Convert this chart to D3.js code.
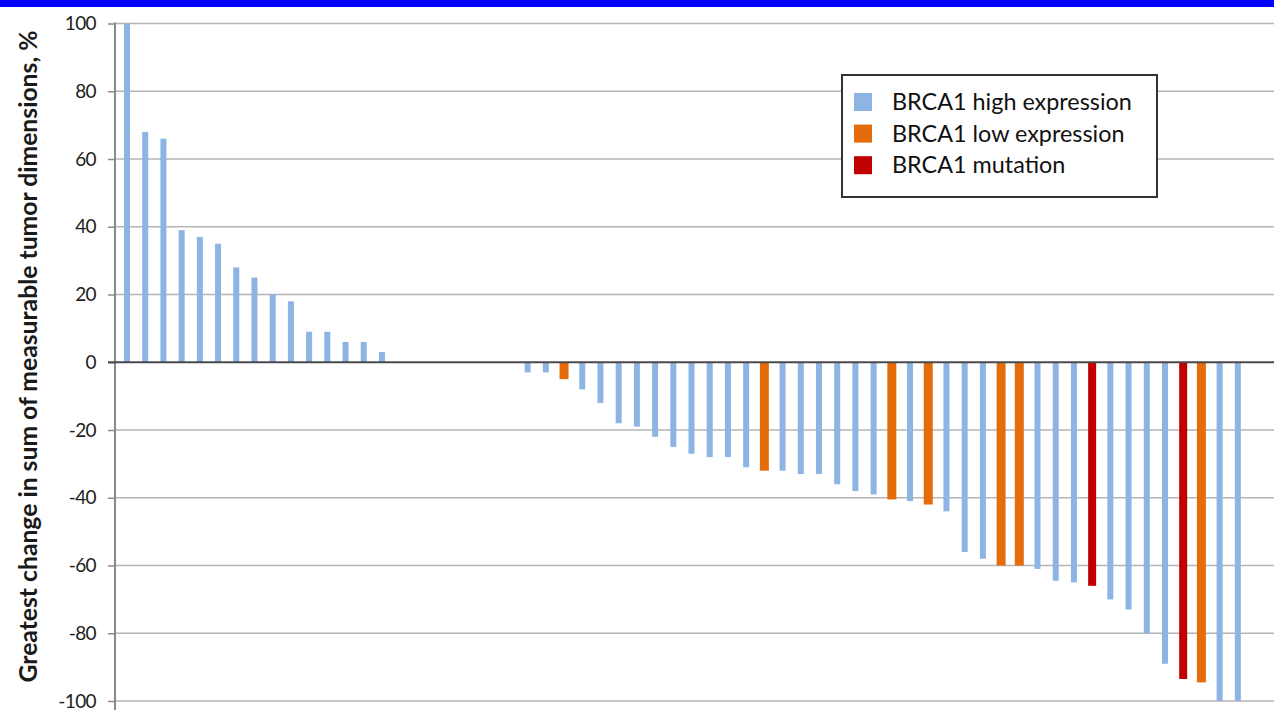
<!DOCTYPE html>
<html>
<head>
<meta charset="utf-8">
<script src="https://cdn.jsdelivr.net/npm/d3@7"></script>
<style>
  html, body { margin: 0; padding: 0; background: #ffffff; }
  svg { display: block; }
  text { font-family: Lato, "Open Sans", "DejaVu Sans", sans-serif; }
</style>
</head>
<body>
<svg id="chart" width="1274" height="710"></svg>
<script>
// Waterfall of best tumour response per patient, ordered from growth to shrinkage.
const changes = [
  100, 68, 66, 39, 37, 35, 28, 25, 20, 18, 9, 9, 6, 6, 3,
  0, 0, 0, 0, 0, 0, 0,
  -3, -3, -5, -8, -12, -18, -19, -22, -25, -27, -28, -28, -31, -32, -32, -33, -33, -36,
  -38, -39, -40.5, -41, -42, -44, -56, -58, -60, -60, -61, -64.5, -65, -66, -70, -73,
  -80, -89, -93.5, -94.5, -100, -100
];
const groups = [
  "high", "high", "high", "high", "high", "high", "high", "high", "high", "high", "high", "high", "high", "high", "high",
  "high", "high", "high", "high", "high", "high", "high",
  "high", "high", "low", "high", "high", "high", "high", "high", "high", "high", "high", "high", "high", "low", "high", "high", "high", "high",
  "high", "high", "low", "high", "low", "high", "high", "high", "low", "low", "high", "high", "high", "mut", "high", "high",
  "high", "high", "mut", "low", "high", "high"
];
const groupKeys = ["high", "low", "mut"];
const groupLabels = ["BRCA1 high expression", "BRCA1 low expression", "BRCA1 mutation"];
const yTicks = [100, 80, 60, 40, 20, 0, -20, -40, -60, -80, -100];
const yTitle = "Greatest change in sum of measurable tumor dimensions, %";

const patients = changes.map((_, i) => i + 1);
const rows = patients.map((p, i) => ({ patient: p, change: changes[i], group: groups[i] }));

// Styling
const fills = { high: "#8db4e2", low: "#e46c0a", mut: "#c00000" };
const barWidths = { high: 6, low: 9, mut: 8 };

const W = 1274, H = 710;
const axisX = 115;
const svg = d3.select("#chart");

// Banner strip along the top edge
svg.append("rect").attr("x", 0).attr("y", 0).attr("width", W).attr("height", 7).attr("fill", "#0000fc");

const y = d3.scaleLinear().domain([-100, 100]).range([701, 23.5]);
const x = d3.scaleBand().domain(patients).range([117.9, 117.9 + patients.length * 18.21]).padding(0);

// Horizontal gridlines
svg.append("g")
  .selectAll("line")
  .data(yTicks.filter(t => t !== 0))
  .join("line")
  .attr("x1", axisX).attr("x2", W)
  .attr("y1", d => y(d)).attr("y2", d => y(d))
  .attr("stroke", "#b5b5b5").attr("stroke-width", 1.6);

// Left value axis (plain hyphen for negative labels)
const yAxis = d3.axisLeft(y).tickValues(yTicks).tickSize(7).tickPadding(12).tickFormat(d => String(d));
const gy = svg.append("g").attr("transform", `translate(${axisX},0)`).call(yAxis);
gy.select(".domain").attr("stroke", "#8a8a8a").attr("stroke-width", 2)
  .attr("d", `M0,${y(100) - 1}V${H}`);
gy.selectAll(".tick line").attr("stroke", "#8a8a8a").attr("stroke-width", 1.5);
gy.selectAll(".tick text")
  .attr("fill", "#1e1e1e")
  .style("font-size", "19px")
  .style("letter-spacing", "-0.6px");

// Bars
svg.append("g")
  .selectAll("rect")
  .data(rows.filter(d => d.change !== 0))
  .join("rect")
  .attr("x", d => x(d.patient) + x.bandwidth() / 2 - barWidths[d.group] / 2)
  .attr("width", d => barWidths[d.group])
  .attr("y", d => y(Math.max(0, d.change)))
  .attr("height", d => Math.abs(y(d.change) - y(0)))
  .attr("fill", d => fills[d.group]);

// Zero baseline
svg.append("line")
  .attr("x1", axisX - 7).attr("x2", W)
  .attr("y1", y(0)).attr("y2", y(0))
  .attr("stroke", "#4a4a4a").attr("stroke-width", 2);

// Fit a text element to a target width by adjusting its font size
function fitWidth(sel, target) {
  const node = sel.node();
  const fs = parseFloat(sel.style("font-size"));
  const w = node.getComputedTextLength();
  sel.style("font-size", (fs * target / w).toFixed(2) + "px");
}

// Axis title
const title = svg.append("text")
  .attr("transform", `translate(37,${(683 + 30) / 2}) rotate(-90)`)
  .attr("text-anchor", "middle")
  .attr("fill", "#1a1a1a")
  .style("font-weight", "bold")
  .style("font-size", "18px")
  .text(yTitle);
fitWidth(title, 652);

// Legend
const legend = svg.append("g");
legend.append("rect")
  .attr("x", 842).attr("y", 75).attr("width", 315).attr("height", 122)
  .attr("fill", "#ffffff").attr("stroke", "#333333").attr("stroke-width", 2);
const items = legend.selectAll("g.item")
  .data(groupKeys)
  .join("g")
  .attr("class", "item")
  .attr("transform", (d, i) => `translate(0,${110 + i * 31.6})`);
items.append("rect")
  .attr("x", 854).attr("y", -17).attr("width", 18).attr("height", 18)
  .attr("fill", d => fills[d]);
const labels = items.append("text")
  .attr("x", 892).attr("y", 0)
  .attr("fill", "#111111")
  .style("font-size", "19px")
  .text((d, i) => groupLabels[i]);
const baseFs = parseFloat(d3.select(labels.nodes()[0]).style("font-size"));
const scaleFs = 240 / labels.nodes()[0].getComputedTextLength();
labels.style("font-size", (baseFs * scaleFs).toFixed(2) + "px");
</script>
</body>
</html>
